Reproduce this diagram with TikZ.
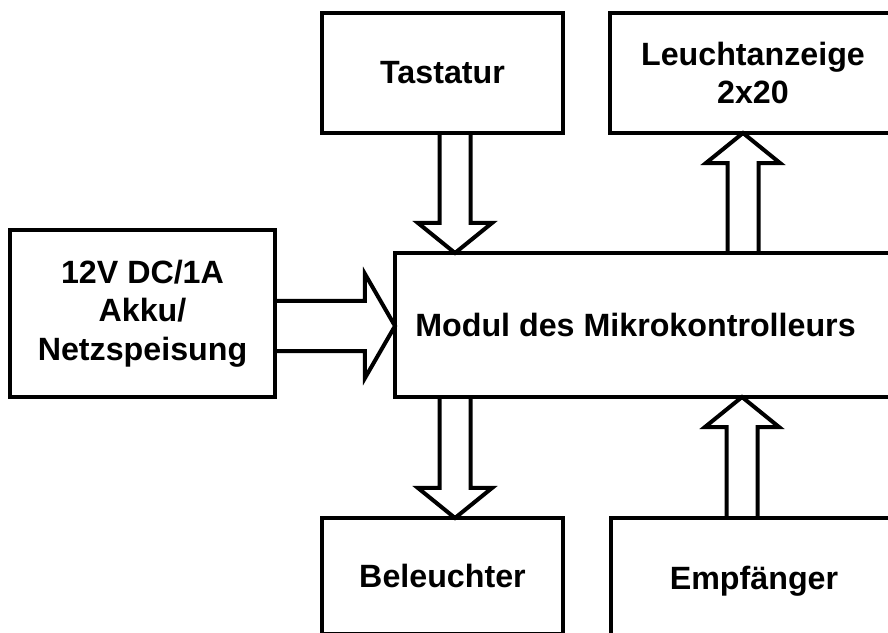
\documentclass[tikz,border=0pt]{standalone}
\usepackage{fontspec}
\setmainfont{Liberation Sans}
\usepackage{tikz}
\usetikzlibrary{calc,positioning}

\tikzset{
  block/.style={draw, line width=0.12cm, inner sep=0pt, outer sep=0pt,
    align=center, font={\fontsize{27.5}{33}\selectfont\bfseries}},
  slimarrow/.code={\def\shaftw{0.465cm}\def\headw{1.11cm}\def\headl{0.9cm}},
  widearrow/.code={\def\shaftw{0.75cm}\def\headw{1.56cm}\def\headl{0.9cm}},
  blockarrow/.style={line width=0.12cm, line join=miter, to path={
    ($(\tikztostart)!\shaftw!90:(\tikztotarget)$)
    -- ($($(\tikztotarget)!\headl!(\tikztostart)$)!\shaftw!-90:(\tikztostart)$)
    -- ($($(\tikztotarget)!\headl!(\tikztostart)$)!\headw!-90:(\tikztostart)$)
    -- (\tikztotarget)
    -- ($($(\tikztotarget)!\headl!(\tikztostart)$)!\headw!90:(\tikztostart)$)
    -- ($($(\tikztotarget)!\headl!(\tikztostart)$)!\shaftw!90:(\tikztostart)$)
    -- ($(\tikztostart)!\shaftw!-90:(\tikztotarget)$)}}
}

\begin{document}
\begin{tikzpicture}[x=0.03cm, y=0.03cm]
  \useasboundingbox (0, 0) rectangle (888, 632);
  \clip (0, 0) rectangle (888, 632);
  % boxes
  \node[block, minimum width=7.23cm, minimum height=3.6cm] (tast) at (442.5, 559) {Tastatur};
  \node[block, minimum width=8.58cm, minimum height=3.6cm] (leucht) at (753, 559) {Leuchtanzeige\\2x20};
  \node[block, minimum width=7.95cm, minimum height=5.01cm] (akku) at (142.5, 318.5) {12V DC/1A\\Akku/\\Netzspeisung};
  \node[block, minimum width=15.15cm, minimum height=4.32cm,
    label={[xshift=-0.36cm, font={\fontsize{27.5}{33}\selectfont\bfseries}]center:Modul des Mikrokontrolleurs}] (modul) at (647.5, 307) {};
  \node[block, minimum width=7.23cm, minimum height=3.48cm] (bel) at (442.5, 56) {Beleuchter};
  \node[block, minimum width=8.58cm, minimum height=3.78cm] (empf) at (754, 51) {Empf\"anger};
  % arrow ends
  \coordinate (tk) at ([xshift=0.375cm]tast.south);
  \coordinate (tkm) at (tk |- modul.north);
  \coordinate (lz) at ([xshift=-0.3cm]leucht.south);
  \coordinate (lzm) at (lz |- modul.north);
  \coordinate (pw) at ([yshift=-0.375cm]akku.east);
  \coordinate (pwm) at (pw -| modul.west);
  \coordinate (bl) at ([xshift=0.375cm]bel.north);
  \coordinate (blm) at (bl |- modul.south);
  \coordinate (ep) at ([xshift=-0.36cm]empf.north);
  \coordinate (epm) at (ep |- modul.south);
  % arrows
  \draw[blockarrow, slimarrow] (tk) to (tkm);
  \draw[blockarrow, slimarrow] (lzm) to (lz);
  \draw[blockarrow, widearrow] (pw) to (pwm);
  \draw[blockarrow, slimarrow] (blm) to (bl);
  \draw[blockarrow, slimarrow] (ep) to (epm);
\end{tikzpicture}
\end{document}
